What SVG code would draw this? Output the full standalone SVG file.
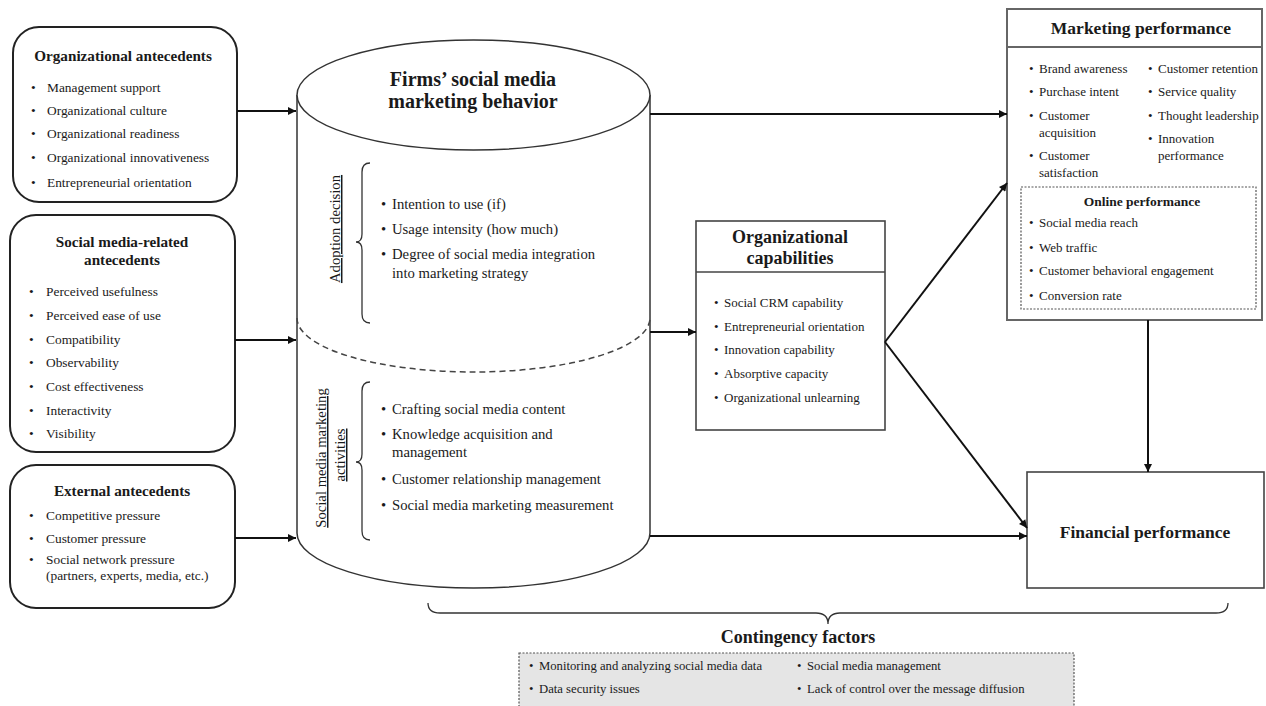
<svg xmlns="http://www.w3.org/2000/svg" width="1266" height="706" viewBox="0 0 1266 706">
<defs>
<style>
.t{font-family:"Liberation Serif","Times New Roman",serif;fill:#1a1a1a}
.b{font-weight:bold}
.s13{font-size:13px}
.sl{font-size:13.4px}
.s14{font-size:14.7px}
.rbox{fill:#fff;stroke:#222;stroke-width:2}
.sbox{fill:#fff;stroke:#444;stroke-width:1.6}
.conn{stroke:#111;stroke-width:2;fill:none}
.brace{stroke:#333;stroke-width:1.3;fill:none}
.mid{text-anchor:middle}
</style>
<marker id="ah" viewBox="0 0 10 10" refX="10" refY="5" orient="auto" markerUnits="userSpaceOnUse" markerWidth="9" markerHeight="8">
<path d="M0,0 L10,5 L0,10 z" fill="#111"/>
</marker>
</defs>
<rect width="1266" height="706" fill="#fff"/>

<g id="org-antecedents">
<rect class="rbox" x="13" y="27" width="224" height="175" rx="26"/>
<text class="t b mid" x="123" y="61" font-size="15.2">Organizational antecedents</text>
<g class="t sl">
<text y="92"><tspan x="31">•</tspan><tspan x="47">Management support</tspan></text>
<text y="115"><tspan x="31">•</tspan><tspan x="47">Organizational culture</tspan></text>
<text y="138"><tspan x="31">•</tspan><tspan x="47">Organizational readiness</tspan></text>
<text y="162"><tspan x="31">•</tspan><tspan x="47">Organizational innovativeness</tspan></text>
<text y="187"><tspan x="31">•</tspan><tspan x="47">Entrepreneurial orientation</tspan></text>
</g>
</g>

<g id="sm-antecedents">
<rect class="rbox" x="10" y="215" width="225" height="237" rx="26"/>
<text class="t b mid" x="122" y="247" font-size="15.2">Social media-related</text>
<text class="t b mid" x="122" y="265" font-size="15.2">antecedents</text>
<g class="t sl">
<text y="296"><tspan x="29">•</tspan><tspan x="46">Perceived usefulness</tspan></text>
<text y="320"><tspan x="29">•</tspan><tspan x="46">Perceived ease of use</tspan></text>
<text y="344"><tspan x="29">•</tspan><tspan x="46">Compatibility</tspan></text>
<text y="367"><tspan x="29">•</tspan><tspan x="46">Observability</tspan></text>
<text y="391"><tspan x="29">•</tspan><tspan x="46">Cost effectiveness</tspan></text>
<text y="415"><tspan x="29">•</tspan><tspan x="46">Interactivity</tspan></text>
<text y="438"><tspan x="29">•</tspan><tspan x="46">Visibility</tspan></text>
</g>
</g>

<g id="ext-antecedents">
<rect class="rbox" x="10" y="465" width="225" height="143" rx="26"/>
<text class="t b mid" x="122" y="496" font-size="15.2">External antecedents</text>
<g class="t sl">
<text y="520"><tspan x="29">•</tspan><tspan x="46">Competitive pressure</tspan></text>
<text y="543"><tspan x="29">•</tspan><tspan x="46">Customer pressure</tspan></text>
<text y="564"><tspan x="29">•</tspan><tspan x="46">Social network pressure</tspan></text>
<text y="580"><tspan x="46">(partners, experts, media, etc.)</tspan></text>
</g>
</g>

<g id="smm-behavior">
<path d="M297,95 L297,533 A176.5,55 0 0 0 650,533 L650,95" fill="#fff" stroke="#333" stroke-width="1.5"/>
<ellipse cx="473.5" cy="95" rx="176.5" ry="55" fill="#fff" stroke="#333" stroke-width="1.5"/>
<path d="M297,318 A176.5,54 0 0 0 650,318" fill="none" stroke="#444" stroke-width="1.5" stroke-dasharray="6 4"/>
<text class="t b mid" x="473" y="86" font-size="20">Firms’ social media</text>
<text class="t b mid" x="473" y="108" font-size="20">marketing behavior</text>
<text class="t s14 mid" x="340" y="229" transform="rotate(-90 340 229)" text-decoration="underline">Adoption decision</text>
<path class="brace" d="M370,163 Q362,163 362,172 L362,234 Q362,242 356,242 Q362,242 362,250 L362,314 Q362,323 370,323"/>
<g class="t s14">
<text y="209"><tspan x="381">•</tspan><tspan x="392">Intention  to use (if)</tspan></text>
<text y="234"><tspan x="381">•</tspan><tspan x="392">Usage intensity  (how much)</tspan></text>
<text y="259"><tspan x="381">•</tspan><tspan x="392">Degree of social media integration</tspan></text>
<text y="278"><tspan x="392">into marketing strategy</tspan></text>
</g>
<text class="t s14 mid" x="326" y="458" transform="rotate(-90 326 458)" text-decoration="underline">Social media marketing</text>
<text class="t s14 mid" x="345" y="455" transform="rotate(-90 345 455)" text-decoration="underline">activities</text>
<path class="brace" d="M370,382 Q362,382 362,391 L362,454 Q362,462 356,462 Q362,462 362,470 L362,531 Q362,540 370,540"/>
<g class="t s14">
<text y="414"><tspan x="381">•</tspan><tspan x="392">Crafting  social media  content</tspan></text>
<text y="439"><tspan x="381">•</tspan><tspan x="392">Knowledge  acquisition  and</tspan></text>
<text y="457"><tspan x="392">management</tspan></text>
<text y="484"><tspan x="381">•</tspan><tspan x="392">Customer relationship  management</tspan></text>
<text y="510"><tspan x="381">•</tspan><tspan x="392">Social media marketing  measurement</tspan></text>
</g>
</g>

<g id="org-capabilities">
<rect class="sbox" x="696" y="221" width="189" height="209"/>
<line x1="696" y1="272" x2="885" y2="272" stroke="#444" stroke-width="1.6"/>
<text class="t b mid" x="790" y="243" font-size="18">Organizational</text>
<text class="t b mid" x="790" y="264" font-size="18">capabilities</text>
<g class="t s13">
<text y="307"><tspan x="714">•</tspan><tspan x="724">Social CRM capability</tspan></text>
<text y="331"><tspan x="714">•</tspan><tspan x="724">Entrepreneurial orientation</tspan></text>
<text y="354"><tspan x="714">•</tspan><tspan x="724">Innovation capability</tspan></text>
<text y="378"><tspan x="714">•</tspan><tspan x="724">Absorptive capacity</tspan></text>
<text y="402"><tspan x="714">•</tspan><tspan x="724">Organizational unlearning</tspan></text>
</g>
</g>

<g id="marketing-performance">
<rect x="1007" y="9" width="255" height="311" fill="#fff" stroke="#666" stroke-width="2"/>
<line x1="1007" y1="47" x2="1262" y2="47" stroke="#666" stroke-width="2"/>
<text class="t b mid" x="1141" y="34" font-size="17.5">Marketing performance</text>
<g class="t s13">
<text y="73"><tspan x="1029">•</tspan><tspan x="1039">Brand awareness</tspan></text>
<text y="96"><tspan x="1029">•</tspan><tspan x="1039">Purchase intent</tspan></text>
<text y="120"><tspan x="1029">•</tspan><tspan x="1039">Customer</tspan></text>
<text y="137"><tspan x="1039">acquisition</tspan></text>
<text y="160"><tspan x="1029">•</tspan><tspan x="1039">Customer</tspan></text>
<text y="177"><tspan x="1039">satisfaction</tspan></text>
<text y="73"><tspan x="1148">•</tspan><tspan x="1158">Customer retention</tspan></text>
<text y="96"><tspan x="1148">•</tspan><tspan x="1158">Service quality</tspan></text>
<text y="120"><tspan x="1148">•</tspan><tspan x="1158">Thought leadership</tspan></text>
<text y="143"><tspan x="1148">•</tspan><tspan x="1158">Innovation</tspan></text>
<text y="160"><tspan x="1158">performance</tspan></text>
</g>
<g id="online-performance">
<rect x="1021" y="187" width="235" height="122" fill="#fff" stroke="#555" stroke-width="1.2" stroke-dasharray="2 1.5"/>
<text class="t b mid" x="1142" y="206" font-size="13.5">Online performance</text>
<g class="t s13">
<text y="227"><tspan x="1029">•</tspan><tspan x="1039">Social media reach</tspan></text>
<text y="252"><tspan x="1029">•</tspan><tspan x="1039">Web traffic</tspan></text>
<text y="275"><tspan x="1029">•</tspan><tspan x="1039">Customer behavioral engagement</tspan></text>
<text y="300"><tspan x="1029">•</tspan><tspan x="1039">Conversion rate</tspan></text>
</g>
</g>
</g>

<g id="financial-performance">
<rect class="sbox" x="1027" y="472" width="237" height="116" stroke="#555"/>
<text class="t b mid" x="1145" y="538" font-size="17.5">Financial performance</text>
</g>

<g id="contingency-factors">
<path class="brace" d="M428,603 Q428,613 440,613 L816,613 Q828,613 828,624 Q828,613 840,613 L1216,613 Q1228,613 1228,603" stroke="#444" stroke-width="1.5"/>
<text class="t b mid" x="798" y="643" font-size="18">Contingency factors</text>
<rect x="519" y="653" width="555" height="60" fill="#e5e5e5" stroke="#555" stroke-width="1.2" stroke-dasharray="2 1.5"/>
<g class="t" font-size="12.7">
<text y="670"><tspan x="529">•</tspan><tspan x="539">Monitoring and analyzing social media  data</tspan></text>
<text y="693"><tspan x="529">•</tspan><tspan x="539">Data security issues</tspan></text>
<text y="670"><tspan x="797">•</tspan><tspan x="807">Social media management</tspan></text>
<text y="693"><tspan x="797">•</tspan><tspan x="807">Lack of control over the message diffusion</tspan></text>
</g>
</g>

<g id="connectors">
<line class="conn" x1="237" y1="111" x2="296" y2="111" marker-end="url(#ah)"/>
<line class="conn" x1="235" y1="340" x2="296" y2="340" marker-end="url(#ah)"/>
<line class="conn" x1="235" y1="538" x2="296" y2="538" marker-end="url(#ah)"/>
<line class="conn" x1="650" y1="332" x2="696" y2="332" marker-end="url(#ah)"/>
<line class="conn" x1="650" y1="114" x2="1007" y2="114" marker-end="url(#ah)"/>
<line class="conn" x1="650" y1="536" x2="1027" y2="536" marker-end="url(#ah)"/>
<line class="conn" x1="885" y1="342" x2="1007" y2="183" marker-end="url(#ah)"/>
<line class="conn" x1="885" y1="342" x2="1027" y2="528" marker-end="url(#ah)"/>
<line class="conn" x1="1148" y1="320" x2="1148" y2="472" marker-end="url(#ah)"/>
</g>
</svg>
